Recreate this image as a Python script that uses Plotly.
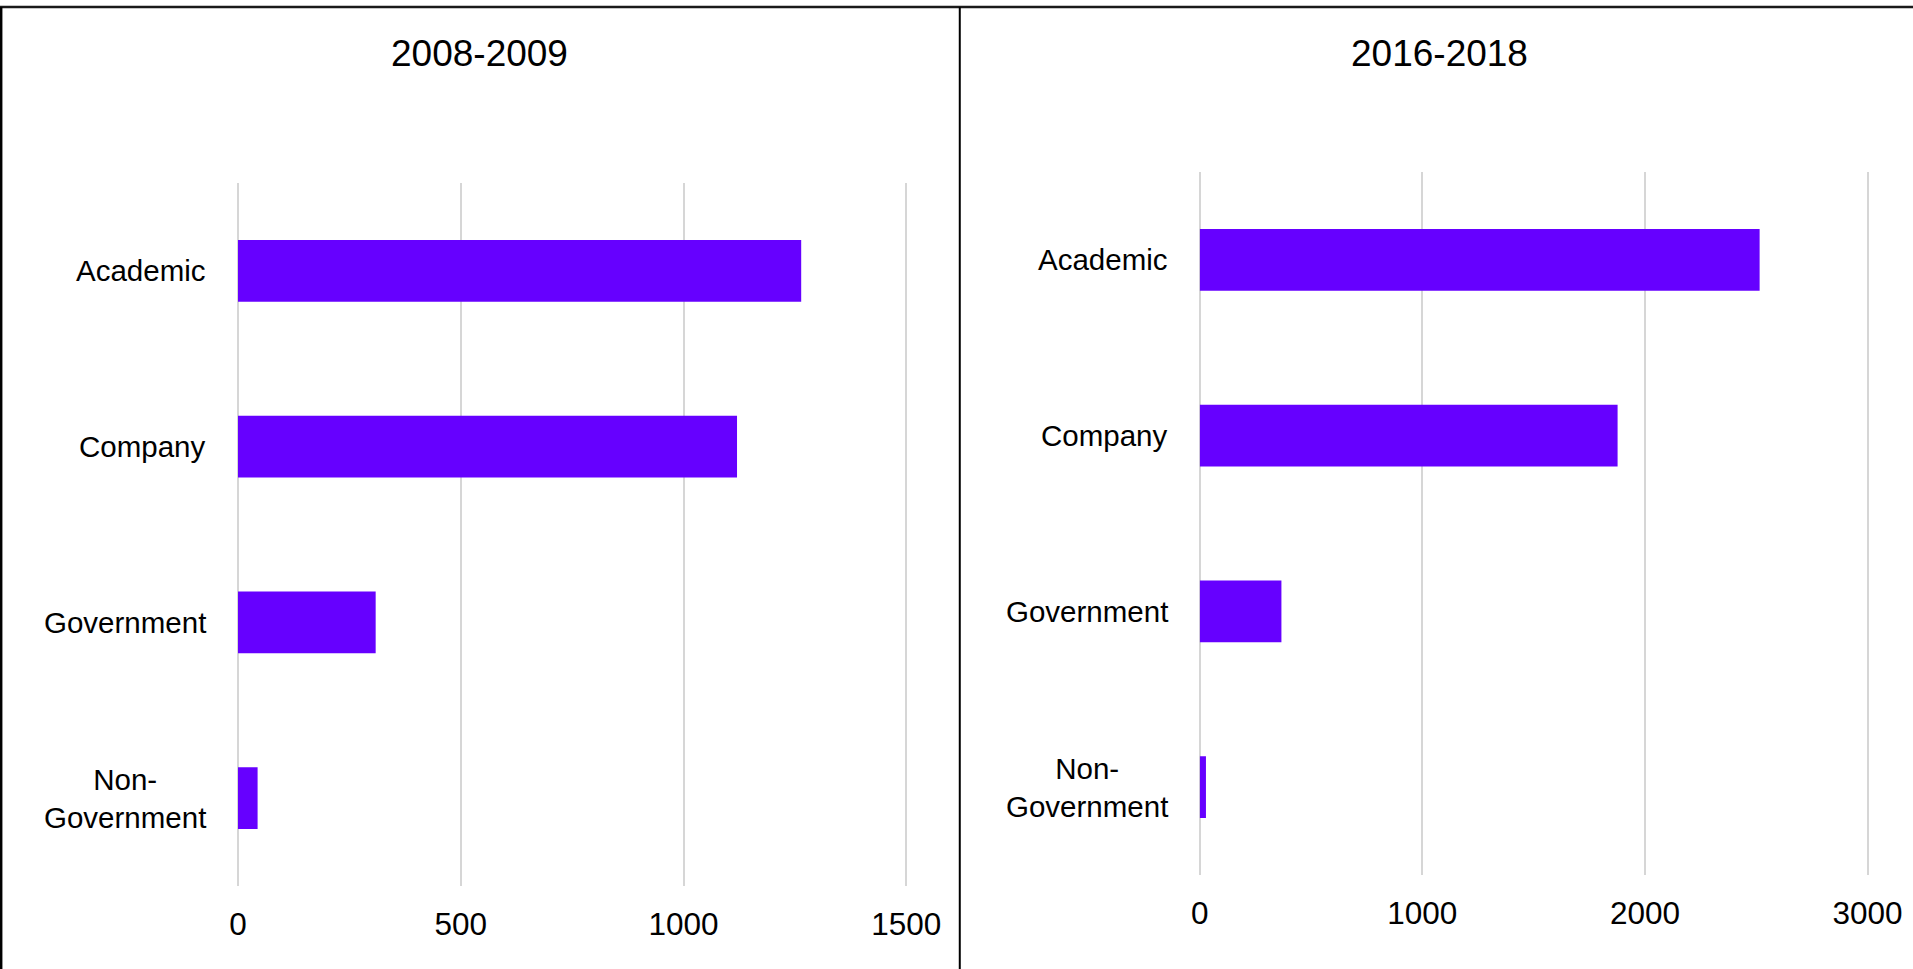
import plotly.graph_objects as go

# Publications by organisation type, two periods
categories = ["Academic", "Company", "Government", "Non-Government"]
category_labels = ["Academic", "Company", "Government", "Non-<br>Government"]
values_2008_2009 = [1264, 1120, 309, 44]
values_2016_2018 = [2515, 1877, 367, 28]
panel_titles = ["2008-2009", "2016-2018"]
x_ticks_left = [0, 500, 1000, 1500]
x_ticks_right = [0, 1000, 2000, 3000]

W, H = 1913, 969
BAR = "#6600ff"
GRID = "#d6d6d6"
FONT = "Liberation Sans, Arial, sans-serif"
PAD = 1.005  # a little headroom so the last gridline is not clipped


def px_x(p):
    return p / W


def px_y(p):
    return 1 - p / H


fig = go.Figure()

fig.add_trace(go.Bar(
    x=values_2008_2009, y=categories, orientation="h",
    marker=dict(color=BAR, line=dict(width=0)), width=0.35,
    xaxis="x", yaxis="y", showlegend=False, hoverinfo="x+y",
))
fig.add_trace(go.Bar(
    x=values_2016_2018, y=categories, orientation="h",
    marker=dict(color=BAR, line=dict(width=0)), width=0.35,
    xaxis="x2", yaxis="y2", showlegend=False, hoverinfo="x+y",
))

panels = [
    # (x of zero px, x of last tick px, y top px, y bottom px, last tick, ticks)
    (234.0, 917.0, 183, 886, 1500, x_ticks_left),
    (1216.8, 1899.3, 172, 875, 3000, x_ticks_right),
]

axis_common = dict(
    showgrid=True, gridcolor=GRID, gridwidth=1.5,
    zeroline=True, zerolinecolor=GRID, zerolinewidth=1.5,
    showline=False, ticks="",
    tickfont=dict(family=FONT, size=31.5, color="#000000"),
)

layout_axes = {}
for i, (xl, xr, yt, yb, xmax, ticks) in enumerate(panels):
    sfx = "" if i == 0 else str(i + 1)
    layout_axes["xaxis" + sfx] = dict(
        axis_common,
        domain=[px_x(xl), px_x(xl + (xr - xl) * PAD)],
        range=[0, xmax * PAD],
        tickmode="array", tickvals=ticks, ticktext=[str(t) for t in ticks],
        anchor="y" + sfx, ticklabelstandoff=16,
    )
    layout_axes["yaxis" + sfx] = dict(
        domain=[px_y(yb), px_y(yt)], anchor="x" + sfx,
        type="category", categoryorder="array", categoryarray=categories,
        range=[3.5, -0.5], showgrid=False, zeroline=False, showline=False,
        showticklabels=False, ticks="",
    )

annotations = []
# category labels, right-aligned as a block, lines centred
label_right = [203.2, 1186.0]
for i in range(2):
    yref = "y" if i == 0 else "y2"
    for cat, lab in zip(categories, category_labels):
        annotations.append(dict(
            x=px_x(label_right[i]), xref="paper", xanchor="right",
            y=cat, yref=yref, yanchor="middle",
            text=lab, showarrow=False, align="center",
            font=dict(family=FONT, size=29.5, color="#000000"),
        ))

# panel titles
for cx, t in zip([481.3, 1461.9], panel_titles):
    annotations.append(dict(
        x=px_x(cx), xref="paper", xanchor="center",
        y=px_y(54), yref="paper", yanchor="middle",
        text=t, showarrow=False,
        font=dict(family=FONT, size=37, color="#000000"),
    ))

# frame: rule along the top, outer left edge and the divider between panels
shapes = [
    dict(type="line", xref="paper", yref="paper", x0=-0.01, x1=1.03,
         y0=px_y(7), y1=px_y(7), line=dict(color="#1a1a1a", width=2.5)),
    dict(type="line", xref="paper", yref="paper", x0=px_x(-8), x1=px_x(-8),
         y0=px_y(7), y1=0, line=dict(color="#000000", width=2.5)),
    dict(type="line", xref="paper", yref="paper", x0=px_x(971.6), x1=px_x(971.6),
         y0=px_y(7), y1=0, line=dict(color="#000000", width=2)),
]

fig.update_layout(
    width=W, height=H, autosize=False,
    margin=dict(l=0, r=0, t=0, b=0, pad=0),
    paper_bgcolor="#ffffff", plot_bgcolor="#ffffff",
    font=dict(family=FONT, color="#000000"),
    annotations=annotations, shapes=shapes,
    **layout_axes,
)

fig.write_html(
    "out.html",
    config={"displayModeBar": False, "responsive": False},
    post_script=(
        "document.documentElement.style.margin='0';"
        "document.body.style.margin='0';"
        "document.body.style.overflow='hidden';"
    ),
)
